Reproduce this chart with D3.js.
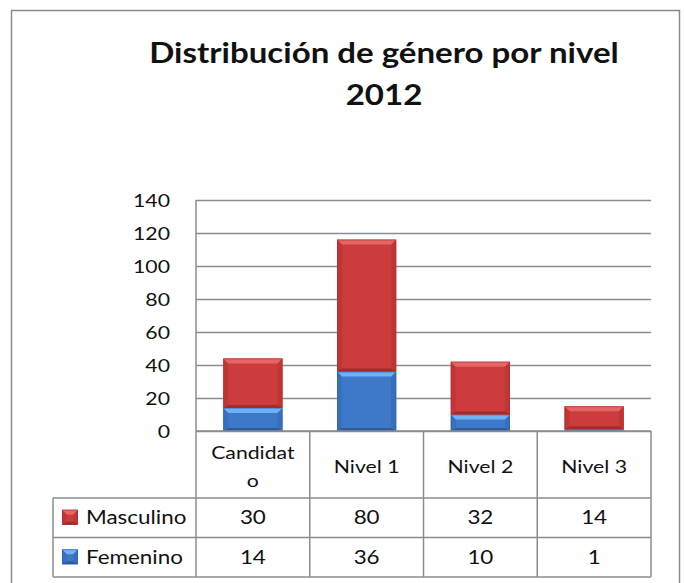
<!DOCTYPE html>
<html>
<head>
<meta charset="utf-8">
<script src="https://cdn.jsdelivr.net/npm/d3@7"></script>
<style>
  body { margin: 0; background: #fff; }
  svg text { font-family: Lato, "Open Sans", sans-serif; fill: #111; }
</style>
</head>
<body>
<svg id="chart" width="684" height="583"></svg>
<script>
// data
const categories = ['Candidato', 'Nivel 1', 'Nivel 2', 'Nivel 3'];
const seriesNames = ['Masculino', 'Femenino'];
const masculino = [30, 80, 32, 14];
const femenino = [14, 36, 10, 1];
const yTicks = [0, 20, 40, 60, 80, 100, 120, 140];
const titleLines = ['Distribución de género por nivel', '2012'];

const colors = {
  Masculino: { face: '#cd3c3c', light: '#e66464', side: '#c03636', dark: '#a02c2c' },
  Femenino:  { face: '#3e79c9', light: '#70b0f4', side: '#3870bd', dark: '#2d5c9e' }
};

const box = { left: 196, right: 651, top: 200, bottom: 431 };
const table = { legendLeft: 53, headBottom: 498, rowH: 39.5 };
const sx = 1.18; // the source text is a bit wider than Lato

const svg = d3.select('#chart');

// text squeezed/stretched around its anchor point
function label(parent, x, y, str, size, anchor, weight) {
  const g = parent.append('g').attr('transform', `translate(${x},${y}) scale(${sx},1)`);
  return g.append('text')
    .attr('text-anchor', anchor || 'start')
    .style('font-size', size + 'px')
    .style('font-weight', weight || 'normal')
    .text(str);
}

// outer frame
svg.append('rect')
  .attr('x', 11.5).attr('y', 10.5)
  .attr('width', 668).attr('height', 600)
  .attr('fill', 'none').attr('stroke', '#8a8a8a').attr('stroke-width', 1.5);

// title
titleLines.forEach((t, i) => label(svg, 384, 63 + i * 42, t, 28, 'middle', 'bold'));

// scales
const x = d3.scaleBand().domain(categories).range([box.left, box.right]).paddingInner(0).paddingOuter(0);
const y = d3.scaleLinear().domain([0, 140]).range([box.bottom, box.top]);

// grid
const grid = svg.append('g')
  .attr('transform', `translate(${box.left},0)`)
  .call(d3.axisLeft(y).tickValues(yTicks).tickSize(-(box.right - box.left)).tickFormat(''));
grid.select('.domain').remove();
grid.selectAll('.tick line').attr('stroke', '#8c8c8c').attr('stroke-width', 1.5);

// y axis labels
const yAxis = svg.append('g')
  .attr('transform', `translate(${box.left - 26},0)`)
  .call(d3.axisLeft(y).tickValues(yTicks).tickSize(0).tickPadding(0).tickFormat(''));
yAxis.select('.domain').remove();
yAxis.selectAll('.tick').each(function(d) {
  label(d3.select(this), 0, 6.5, d, 18, 'end');
});

// stacked bars
const rows = categories.map((c, i) => ({ cat: c, Femenino: femenino[i], Masculino: masculino[i] }));
const stack = d3.stack().keys(['Femenino', 'Masculino'])(rows);
const barW = x.bandwidth() * 0.52;

function bevelBar(g, bx, by, w, h, c) {
  const b = Math.min(5, h / 3);
  const bb = Math.min(3, h / 4);
  g.append('rect').attr('x', bx).attr('y', by).attr('width', w).attr('height', h).attr('fill', c.face);
  const poly = (pts, fill) => g.append('polygon').attr('points', pts.map(p => p.join(',')).join(' ')).attr('fill', fill);
  poly([[bx, by], [bx + b, by + b], [bx + b, by + h - bb], [bx, by + h]], c.side);
  poly([[bx + w, by], [bx + w - b, by + b], [bx + w - b, by + h - bb], [bx + w, by + h]], c.side);
  poly([[bx, by + h], [bx + b, by + h - bb], [bx + w - b, by + h - bb], [bx + w, by + h]], c.dark);
  poly([[bx, by], [bx + w, by], [bx + w - b, by + b], [bx + b, by + b]], c.light);
  g.append('rect').attr('x', bx + 0.5).attr('y', by + 0.5).attr('width', w - 1).attr('height', Math.max(0, h - 1))
    .attr('fill', 'none').attr('stroke', c.dark).attr('stroke-opacity', 0.45);
}

const bars = svg.append('g').attr('class', 'bars');
stack.forEach(layer => {
  const c = colors[layer.key];
  layer.forEach(d => {
    const bx = x(d.data.cat) + (x.bandwidth() - barW) / 2;
    const top = y(d[1]);
    const h = y(d[0]) - y(d[1]);
    bevelBar(bars.append('g'), bx, top, barW, h, c);
  });
});

// y axis line
svg.append('line')
  .attr('x1', box.left).attr('x2', box.left)
  .attr('y1', box.top).attr('y2', box.bottom)
  .attr('stroke', '#8c8c8c').attr('stroke-width', 1.5);

// data table
const tg = svg.append('g').attr('class', 'table');
const line = (x1, y1, x2, y2) => tg.append('line')
  .attr('x1', x1).attr('y1', y1).attr('x2', x2).attr('y2', y2)
  .attr('stroke', '#8c8c8c').attr('stroke-width', 1.5);

const rowTops = seriesNames.map((s, i) => table.headBottom + i * table.rowH);
const tableBottom = table.headBottom + seriesNames.length * table.rowH;

[...categories.map(c => x(c)), box.right].forEach(v => line(v, box.bottom, v, tableBottom));
line(box.left, box.bottom, box.right, box.bottom);
line(table.legendLeft, table.headBottom, box.right, table.headBottom);
rowTops.slice(1).forEach(t => line(table.legendLeft, t, box.right, t));
line(table.legendLeft, tableBottom, box.right, tableBottom);
line(table.legendLeft, table.headBottom, table.legendLeft, tableBottom);

// header labels, wrapped by characters the way the cell does
const measure = tg.append('text').style('font-size', '18px').attr('opacity', 0);
categories.forEach(c => {
  const cx = x(c) + x.bandwidth() / 2;
  const maxW = x.bandwidth() - 22;
  const parts = [];
  let cur = '';
  for (const ch of c) {
    measure.text(cur + ch);
    if (measure.node().getComputedTextLength() * sx > maxW && cur) { parts.push(cur); cur = ch; }
    else cur += ch;
  }
  parts.push(cur);
  const mid = (box.bottom + table.headBottom) / 2 + 8;
  parts.forEach((p, i) => label(tg, cx, mid + (i - (parts.length - 1) / 2) * 28, p, 18, 'middle'));
});
measure.remove();

// rows
const values = { Masculino: masculino, Femenino: femenino };
seriesNames.forEach((s, i) => {
  const cy = rowTops[i] + table.rowH / 2;
  bevelBar(tg.append('g'), 62, cy - 8, 16, 15, colors[s]);
  label(tg, 86, cy + 6.5, s, 19, 'start');
  values[s].forEach((v, j) => {
    label(tg, x(categories[j]) + x.bandwidth() / 2, cy + 6.5, v, 19, 'middle');
  });
});
</script>
</body>
</html>
